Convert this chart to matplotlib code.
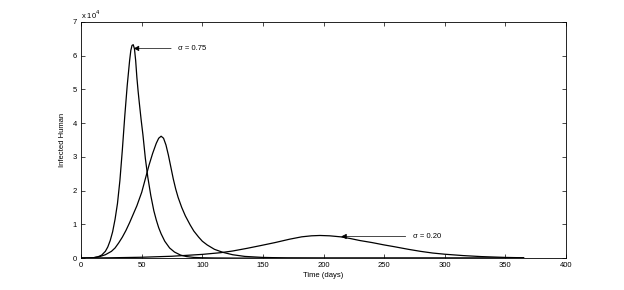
import matplotlib
matplotlib.use('Agg')
import matplotlib.pyplot as plt

plt.rcParams['font.family'] = ['Liberation Sans', 'DejaVu Sans']

# Infected humans (units of 1e4), per curve
days_a = [0, 6, 10, 14, 17, 20, 22, 24, 26, 28, 30, 32, 34, 36, 38, 40, 41, 42, 43, 44, 45, 46, 47,
          48, 49.5, 51, 53, 55, 57.5, 60, 62, 64, 66, 69, 73, 77, 82, 87, 93, 100, 110, 130, 365]
inf_a = [0, 0, 0.01, 0.04, 0.09, 0.2, 0.33, 0.52, 0.78, 1.15, 1.62, 2.3, 3.2, 4.2, 5.1, 5.85, 6.15, 6.3, 6.32,
         6.2, 5.85, 5.35, 4.95, 4.6, 4.1, 3.65, 2.95, 2.4, 1.85, 1.4, 1.13, 0.9, 0.72, 0.5, 0.3, 0.18, 0.09, 0.045,
         0.02, 0.01, 0.004, 0, 0]

days_b = [0, 10, 15, 20, 25, 28, 31, 34, 37, 40, 43, 46, 50, 53, 56, 59, 62, 64, 66, 68, 70, 72, 74,
          76, 78, 80, 83, 86, 90, 93, 97, 100, 104, 110, 117, 125, 135, 150, 170, 200, 365]
inf_b = [0, 0.01, 0.04, 0.1, 0.2, 0.3, 0.45, 0.62, 0.82, 1.05, 1.3, 1.55, 1.95, 2.35, 2.75, 3.1, 3.4, 3.55,
         3.61, 3.55, 3.35, 3.05, 2.7, 2.35, 2.05, 1.8, 1.5, 1.25, 0.98, 0.8, 0.62, 0.5, 0.39, 0.26, 0.17, 0.1,
         0.05, 0.02, 0.005, 0, 0]

days_c = [0, 25, 50, 75, 100, 115, 125, 137, 148, 160, 172, 182, 190, 197, 205, 214, 222, 230, 240, 250,
          258, 270, 280, 290, 300, 315, 330, 350, 365]
inf_c = [0, 0.01, 0.025, 0.055, 0.11, 0.16, 0.21, 0.29, 0.37, 0.46, 0.56, 0.63, 0.66, 0.67, 0.66, 0.63, 0.58,
         0.52, 0.46, 0.39, 0.34, 0.26, 0.2, 0.15, 0.115, 0.075, 0.045, 0.02, 0.01]

x_ticks = [0, 50, 100, 150, 200, 250, 300, 350, 400]
y_ticks = [0, 1, 2, 3, 4, 5, 6, 7]

fig = plt.figure(figsize=(6.24, 2.9), dpi=100)
ax = fig.add_axes([0.13, 0.11, 0.777, 0.815])

for d, v in [(days_a, inf_a), (days_b, inf_b), (days_c, inf_c)]:
    ax.plot(d, v, color='black', lw=0.9)

ax.set_xlim(0, 400)
ax.set_ylim(0, 7)
ax.set_xticks(x_ticks)
ax.set_yticks(y_ticks)
ax.tick_params(direction='in', top=True, right=True, length=3, width=0.5, labelsize=5.5, pad=3)
for s in ax.spines.values():
    s.set_linewidth(0.6)

ax.set_xlabel('Time (days)', fontsize=5.5, labelpad=2)
ax.set_ylabel('Infected Human', fontsize=5.5, labelpad=5)
ax.text(0.0, 1.005, r'x 10$^4$', transform=ax.transAxes, fontsize=5.5, ha='left', va='bottom')

arrow = dict(arrowstyle='-|>', color='black', lw=0.5, mutation_scale=8, shrinkA=3, shrinkB=0)
ax.annotate('σ = 0.75', xy=(43.3, 6.21), xytext=(80, 6.21), fontsize=5.5, va='center', ha='left',
            arrowprops=arrow)
ax.annotate('σ = 0.20', xy=(214.5, 0.64), xytext=(273.5, 0.64), fontsize=5.5, va='center', ha='left',
            arrowprops=arrow)

fig.savefig('out.png', dpi=100)
